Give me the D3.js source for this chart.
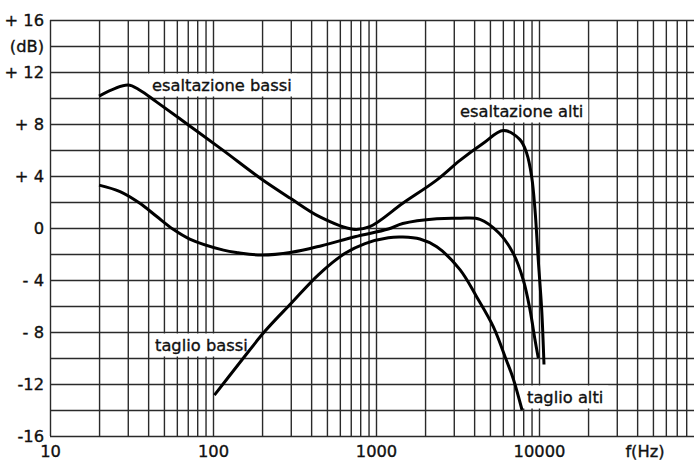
<!DOCTYPE html>
<html><head><meta charset="utf-8">
<script src="https://cdn.jsdelivr.net/npm/d3@7"></script>
<style>
html,body{margin:0;padding:0;background:#fff;}
svg{display:block;}
text{font-family:"DejaVu Sans",sans-serif;fill:#111;stroke:#111;stroke-width:0.35px;}
</style></head>
<body>
<svg id="c" width="694" height="462"></svg>
<script>
// Curve 1: bass boost + treble boost (esaltazione bassi / esaltazione alti)
const freqBoost = [20, 30, 35.6, 45, 72, 116, 194, 297, 453, 722, 915, 1460, 2366, 3274, 4530, 6040, 7640, 8404, 9016, 9451, 9901, 10390, 10730];
const dbBoost   = [10.15, 11.0, 10.6, 9.7, 7.85, 5.95, 3.85, 2.3, 0.85, -0.1, 0.1, 1.9, 3.7, 5.2, 6.5, 7.5, 6.8, 5.75, 3.95, 1.4, -2.5, -6.3, -10.5];
// Curve 2: middle response
const freqMid = [20, 26.9, 35.6, 45, 57, 72, 116, 143, 198, 304, 464, 743, 1190, 1460, 2360, 3274, 4340, 5700, 6950, 8010, 8810, 9450, 9900];
const dbMid   = [3.3, 2.8, 1.9, 0.9, -0.1, -0.85, -1.7, -1.9, -2.08, -1.87, -1.36, -0.67, -0.08, 0.35, 0.72, 0.75, 0.67, -0.4, -1.95, -4.0, -6.3, -8.6, -10.0];
// Curve 3: bass cut + treble cut (taglio bassi / taglio alti)
const freqCut = [102, 143, 208, 304, 443, 646, 857, 1190, 1460, 1860, 2360, 3274, 4150, 5250, 6300, 6950, 7870];
const dbCut   = [-12.85, -10.5, -7.95, -5.75, -3.6, -1.95, -1.2, -0.75, -0.7, -0.85, -1.45, -3.2, -5.3, -7.6, -10.15, -11.6, -14.0];

const yTickValues = [16, 14, 12, 8, 4, 0, -4, -8, -12, -16];
const yTickLabels = ["+ 16", "(dB)", "+ 12", "+ 8", "+ 4", "0", "- 4", "- 8", "-12", "-16"];
const xTickValues = [10, 100, 1000, 10000];
const xTickLabels = ["10", "100", "1000", "10000"];
const xUnitLabel = "f(Hz)";
const curveLabels = ["esaltazione bassi", "esaltazione alti", "taglio bassi", "taglio alti"];
const labelDbTop = [12, 10, -8, -12];

(function () {
const svg = d3.select("#c");
const mL = 50, mT = 20, mB = 436, mR = 694;
const x = d3.scaleLog().domain([10, 100000]).range([mL, mL + 4 * 163]);
const y = d3.scaleLinear().domain([-16, 16]).range([mB, mT]);

// grid
const gridF = [];
for (let d = 10; d <= 10000; d *= 10) for (let k = 1; k <= 9; k++) gridF.push(k * d);
const gridDb = d3.range(-16, 17, 2);
const grid = svg.append("g");
grid.append("g").attr("transform", `translate(0,${mB})`)
  .call(d3.axisBottom(x).tickValues(gridF.filter(f => x(f) <= mR + 1)).tickSize(-(mB - mT)).tickFormat(""))
  .call(g => g.select(".domain").remove());
grid.append("g").attr("transform", `translate(${mL},0)`)
  .call(d3.axisLeft(y).tickValues(gridDb).tickSize(-(mR - mL)).tickFormat(""))
  .call(g => g.select(".domain").remove());
grid.selectAll("line").attr("stroke", "#2a2a2a").attr("stroke-width", 1.4);

// label boxes
const labelX = [152, 460, 155, 527];
const lblG = svg.append("g");
curveLabels.forEach((txt, i) => {
  const t = lblG.append("text").attr("font-size", 16.3).text(txt);
  const w = t.node().getComputedTextLength();
  const y0 = y(labelDbTop[i]), y1 = y(labelDbTop[i] - 2);
  lblG.insert("rect", "text").attr("x", labelX[i] - 5).attr("y", y0 + 1.5)
    .attr("width", w + 10).attr("height", y1 - y0 - 3).attr("fill", "#fff");
  t.attr("x", labelX[i]).attr("y", (y0 + y1) / 2).attr("dy", "0.36em");
});

// curves
const line = d3.line().x(d => x(d[0])).y(d => y(d[1])).curve(d3.curveCatmullRom.alpha(0.5));
[[freqBoost, dbBoost], [freqMid, dbMid], [freqCut, dbCut]].forEach(([fs, ds]) => {
  svg.append("path").datum(fs.map((f, i) => [f, ds[i]]))
    .attr("d", line).attr("fill", "none").attr("stroke", "#000").attr("stroke-width", 3)
    .attr("stroke-linejoin", "round");
});

// axes labels
const yAx = svg.append("g").attr("transform", `translate(44,0)`)
  .call(d3.axisLeft(y).tickValues(yTickValues).tickSize(0).tickPadding(0)
    .tickFormat((d, i) => yTickLabels[i]));
yAx.select(".domain").remove();
yAx.selectAll("text").attr("font-size", 16.3).attr("font-family", "DejaVu Sans").attr("fill", "#111").attr("dy", "0.36em");

const xAx = svg.append("g").attr("transform", `translate(0,445)`)
  .call(d3.axisBottom(x).tickValues(xTickValues).tickSize(0).tickPadding(0)
    .tickFormat((d, i) => xTickLabels[i]));
xAx.select(".domain").remove();
xAx.selectAll("text").attr("font-size", 16.3).attr("font-family", "DejaVu Sans").attr("fill", "#111").attr("dy", "0.71em");

svg.append("text").attr("x", 645).attr("y", 445).attr("dy", "0.71em").attr("text-anchor", "middle")
  .attr("font-size", 16.3).text(xUnitLabel);
})();
</script>
</body></html>
